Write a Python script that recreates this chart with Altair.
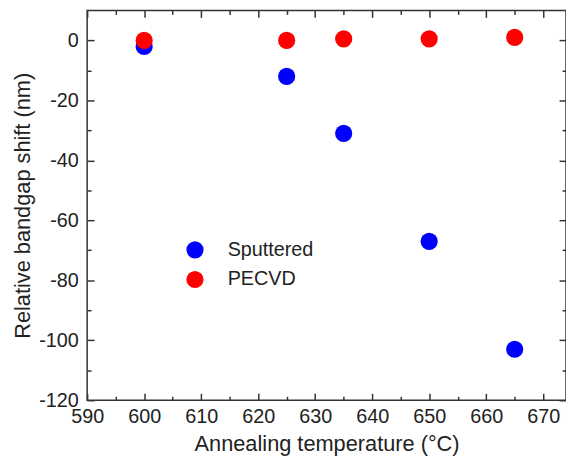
import altair as alt
import pandas as pd

# ---- data ----
temps = [600, 625, 635, 650, 665]
sputtered = [-2, -12, -31, -67, -103]
pecvd = [0, 0, 0.5, 0.5, 1]
series = ["Sputtered", "PECVD"]
colors = ["#0000FF", "#FF0000"]

x_major = [590, 600, 610, 620, 630, 640, 650, 660, 670]
x_minor = [595, 605, 615, 625, 635, 645, 655, 665]
y_major = [-120, -100, -80, -60, -40, -20, 0]
y_minor = [-110, -90, -70, -50, -30, -10]

rows = []
for t, v in zip(temps, sputtered):
    rows.append({"T": t, "shift": v, "series": "Sputtered"})
for t, v in zip(temps, pecvd):
    rows.append({"T": t, "shift": v, "series": "PECVD"})
df = pd.DataFrame(rows)

W, H = 484, 394
FONT = "Liberation Sans"
AX = "#333333"
TXT = "#222222"
LBL = 20
TTL = 22

xs = alt.Scale(domain=[590, 674], nice=False, zero=False)
ys = alt.Scale(domain=[-120, 10], nice=False, zero=False)

base = alt.Chart(df)

main = base.mark_circle(size=300, opacity=1).encode(
    x=alt.X("T:Q", scale=xs, axis=alt.Axis(
        values=x_major, ticks=False, domain=False, grid=False,
        labelFlush=False, labelOverlap=False,
        labelFontSize=LBL, labelFont=FONT, labelColor=TXT, labelPadding=7,
        title="Annealing temperature (°C)", titleFontSize=TTL, titleFont=FONT,
        titleFontWeight="normal", titleColor=TXT, titlePadding=7)),
    y=alt.Y("shift:Q", scale=ys, axis=alt.Axis(
        values=y_major, ticks=False, domain=False, grid=False,
        labelFlush=False, labelOverlap=False,
        labelExpr="replace(datum.label, '\u2212', '-')",
        labelFontSize=LBL, labelFont=FONT, labelColor=TXT, labelPadding=9,
        title="Relative bandgap shift (nm)", titleFontSize=TTL, titleFont=FONT,
        titleFontWeight="normal", titleColor=TXT, titlePadding=4)),
    color=alt.Color("series:N", scale=alt.Scale(domain=series, range=colors),
                    legend=alt.Legend(
                        title=None, orient="none", legendX=99, legendY=232,
                        symbolType="circle", symbolSize=300, symbolStrokeWidth=0,
                        labelFontSize=LBL, labelFont=FONT, labelColor=TXT,
                        labelOffset=23, rowPadding=10, padding=0)),
)


def tick_layer(xorient, yorient, xvals, yvals, size):
    return base.mark_circle(opacity=0).encode(
        x=alt.X("T:Q", scale=xs, axis=alt.Axis(
            orient=xorient, offset=-H, values=xvals, tickSize=size,
            tickColor=AX, tickWidth=1.5, labels=False, domain=False,
            grid=False, title=None)),
        y=alt.Y("shift:Q", scale=ys, axis=alt.Axis(
            orient=yorient, offset=-W, values=yvals, tickSize=size,
            tickColor=AX, tickWidth=1.5, labels=False, domain=False,
            grid=False, title=None)),
    )


layers = [
    tick_layer("top", "right", x_major, y_major, 7),
    tick_layer("bottom", "left", x_major, y_major, 7),
    tick_layer("top", "right", x_minor, y_minor, 4),
    tick_layer("bottom", "left", x_minor, y_minor, 4),
    main,
]

chart = alt.layer(*layers).resolve_axis(x="independent", y="independent").properties(
    width=W, height=H,
    autosize=alt.AutoSizeParams(type="none"),
    padding={"left": 80, "top": 0, "right": 0, "bottom": 64},
).configure_view(stroke=AX, strokeWidth=1.5)

chart.save("out.html", embed_options={"renderer": "svg", "actions": False})
